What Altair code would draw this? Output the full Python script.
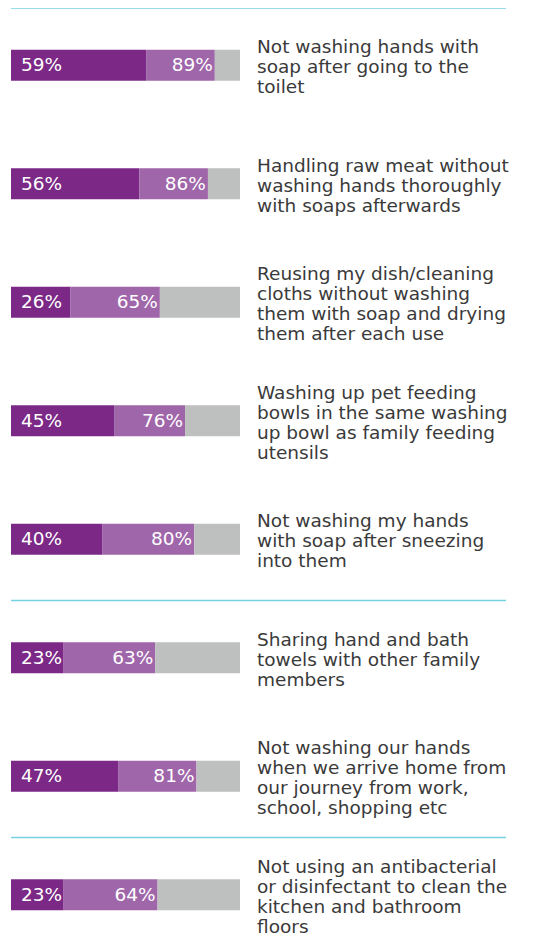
import altair as alt
import pandas as pd

row_ids = ["r1", "r2", "r3", "r4", "r5", "r6", "r7", "r8"]
label_lines = [
    ["Not washing hands with", "soap after going to the", "toilet"],
    ["Handling raw meat without", "washing hands thoroughly", "with soaps afterwards"],
    ["Reusing my dish/cleaning", "cloths without washing", "them with soap and drying", "them after each use"],
    ["Washing up pet feeding", "bowls in the same washing", "up bowl as family feeding", "utensils"],
    ["Not washing my hands", "with soap after sneezing", "into them"],
    ["Sharing hand and bath", "towels with other family", "members"],
    ["Not washing our hands", "when we arrive home from", "our journey from work,", "school, shopping etc"],
    ["Not using an antibacterial", "or disinfectant to clean the", "kitchen and bathroom", "floors"],
]
first_pct = [59, 56, 26, 45, 40, 23, 47, 23]
second_pct = [89, 86, 65, 76, 80, 63, 81, 64]
divider_rows = ["r1", "r6", "r8"]

seg_names = ["first", "second", "rest"]
seg_colors = ["#7b2886", "#a066aa", "#bebfbf"]

seg_rows = []
for r, a, b in zip(row_ids, first_pct, second_pct):
    seg_rows.append({"row": r, "seg": "first", "start": 0, "end": a})
    seg_rows.append({"row": r, "seg": "second", "start": a, "end": b})
    seg_rows.append({"row": r, "seg": "rest", "start": b, "end": 100})
segs = pd.DataFrame(seg_rows)

rows = pd.DataFrame({
    "row": row_ids,
    "first": first_pct,
    "second": second_pct,
    "first_lbl": [f"{v}%" for v in first_pct],
    "second_lbl": [f"{v}%" for v in second_pct],
    "label": label_lines,
    "nlines": [len(l) for l in label_lines],
})
dividers = pd.DataFrame({"row": divider_rows})

xscale = alt.Scale(domain=[0, 100], nice=False, zero=True)
yscale = alt.Scale(type="band", domain=row_ids, range=[0, 948], paddingInner=0, paddingOuter=0)
yenc = alt.Y("row:N", scale=yscale, axis=None)

bars = alt.Chart(segs).mark_bar(size=31, yOffset=-2).encode(
    x=alt.X("start:Q", scale=xscale, axis=None),
    x2="end:Q",
    y=yenc,
    color=alt.Color("seg:N", scale=alt.Scale(domain=seg_names, range=seg_colors), legend=None),
)

pct_font = dict(font="DejaVu Sans", fontSize=18.5, color="white", baseline="middle", yOffset=-2)

first_txt = alt.Chart(rows).mark_text(align="left", dx=10, **pct_font).encode(
    x=alt.X(datum=0, scale=xscale),
    y=yenc,
    text="first_lbl:N",
)

second_txt = alt.Chart(rows).mark_text(align="right", dx=-2, **pct_font).encode(
    x=alt.X("second:Q", scale=xscale),
    y=yenc,
    text="second_lbl:N",
)

lab_font = dict(font="DejaVu Sans", fontSize=18.5, color="#3a3a3a", align="left",
                baseline="middle", lineHeight=20, dx=17)

cat_txt3 = alt.Chart(rows).transform_filter("datum.nlines == 3").mark_text(
    yOffset=-20, **lab_font
).encode(x=alt.X(datum=100, scale=xscale), y=yenc, text="label")

cat_txt4 = alt.Chart(rows).transform_filter("datum.nlines == 4").mark_text(
    yOffset=-30, **lab_font
).encode(x=alt.X(datum=100, scale=xscale), y=yenc, text="label")

rules = alt.Chart(dividers).mark_rule(color="#74d2e2", strokeWidth=1.3).encode(
    x=alt.value(0),
    x2=alt.value(495),
    y=alt.Y("row:N", scale=yscale, axis=None, bandPosition=0),
)

chart = alt.layer(rules, bars, first_txt, second_txt, cat_txt3, cat_txt4).properties(
    width=229,
    height=930,
    autosize=alt.AutoSizeParams(type="none"),
    padding={"left": 3, "top": 0, "right": 285, "bottom": 0},
).configure_view(stroke=None)

chart.save("out.html", embed_options={"renderer": "svg", "actions": False})
